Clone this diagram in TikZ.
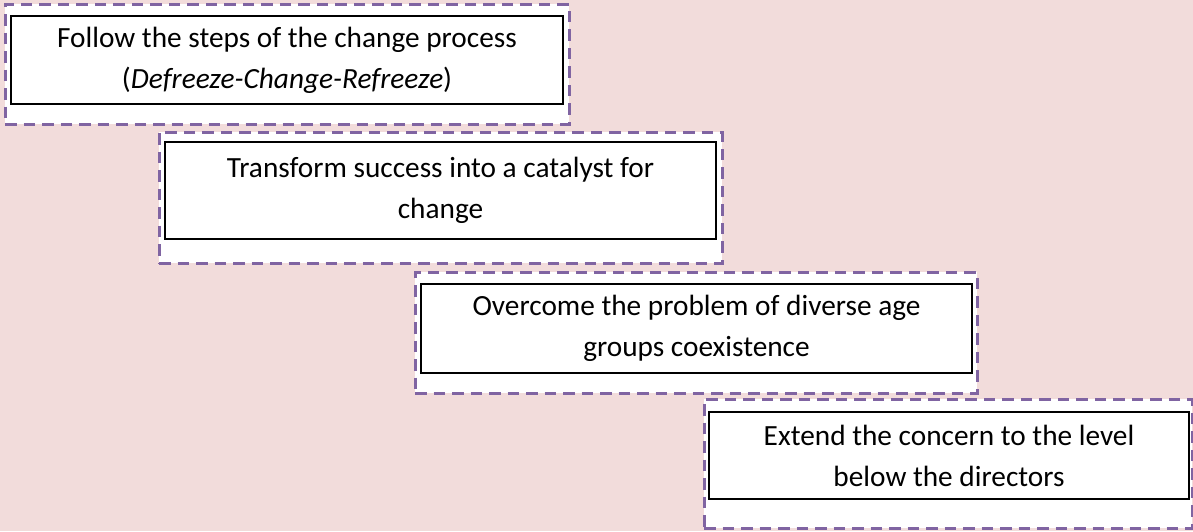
\documentclass[tikz,border=0pt]{standalone}
\usepackage{fontspec}
\setmainfont{Carlito}
\definecolor{pagebg}{HTML}{F2DCDB}
\definecolor{framepurple}{HTML}{8064A2}
\tikzset{
  frame/.style={draw=framepurple, fill=white, line width=3pt,
    dash pattern=on 11.5pt off 7pt, rectangle, inner sep=0pt},
  stepbox/.style={draw=black, fill=white, line width=2.3pt, rectangle,
    inner sep=0pt, align=center, text=black,
    font=\fontsize{29.3}{41}\selectfont},
}
\begin{document}
\begin{tikzpicture}[x=1pt,y=-1pt]
  \useasboundingbox (0,0) rectangle (1193,531);
  \fill[pagebg] (0,0) rectangle (1193,531);

  % first step
  \node[frame, minimum width=564pt, minimum height=120pt] (f1) at (287,64) {};
  \node[stepbox, minimum width=552pt, minimum height=88pt] (s1) at (287,60)
    {Follow the steps of the change process\\(\textit{Defreeze-Change-Refreeze})};

  % second step
  \node[frame, minimum width=563pt, minimum height=131pt] (f2) at (440.5,197.5) {};
  \node[stepbox, minimum width=551pt, minimum height=97pt] (s2) at (440.5,190.5)
    {Transform success into a catalyst for\\change};

  % third step
  \node[frame, minimum width=562pt, minimum height=121pt] (f3) at (696,332.5) {};
  \node[stepbox, minimum width=551pt, minimum height=89pt] (s3) at (696.5,328.5)
    {Overcome the problem of diverse age\\groups coexistence};

  % fourth step
  \node[frame, minimum width=488pt, minimum height=129pt] (f4) at (948,463.5) {};
  \node[stepbox, minimum width=480pt, minimum height=87pt] (s4) at (949,455.5)
    {Extend the concern to the level\\below the directors};
\end{tikzpicture}
\end{document}
